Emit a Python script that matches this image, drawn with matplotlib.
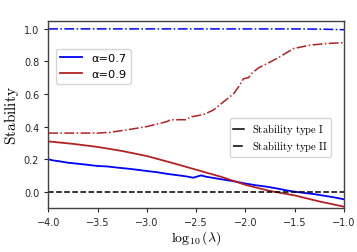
import matplotlib
matplotlib.use("Agg")
import matplotlib.pyplot as plt
from matplotlib.lines import Line2D

plt.rcParams['mathtext.fontset'] = 'cm'

# log10(lambda) grid points and readings
x_b1 = [-4.0, -3.95, -3.9, -3.8, -3.7, -3.6, -3.5, -3.4, -3.3, -3.2, -3.1, -3.0, -2.9, -2.8, -2.7, -2.6, -2.53, -2.48, -2.45, -2.4, -2.3, -2.2, -2.1, -2.0, -1.9, -1.8, -1.7, -1.6, -1.5, -1.4, -1.3, -1.2, -1.1, -1.0]
y_b1 = [0.199, 0.192, 0.188, 0.178, 0.172, 0.165, 0.158, 0.155, 0.148, 0.142, 0.135, 0.127, 0.12, 0.11, 0.102, 0.094, 0.086, 0.095, 0.1, 0.092, 0.082, 0.072, 0.062, 0.05, 0.04, 0.032, 0.022, 0.01, 0.0, -0.008, -0.015, -0.025, -0.035, -0.047]

x_r1 = [-4.0, -3.75, -3.5, -3.25, -3.0, -2.75, -2.5, -2.25, -2.0, -1.75, -1.5, -1.25, -1.0]
y_r1 = [0.309, 0.294, 0.275, 0.25, 0.219, 0.178, 0.135, 0.092, 0.042, 0.004, -0.023, -0.06, -0.092]

x_b2 = [-4.0, -3.0, -2.0, -1.5, -1.2, -1.0]
y_b2 = [1.0, 1.0, 1.0, 1.0, 0.998, 0.995]

x_r2 = [-4.0, -3.75, -3.5, -3.37, -3.2, -3.0, -2.9, -2.8, -2.76, -2.6, -2.56, -2.43, -2.33, -2.225, -2.12, -2.06, -2.02, -1.97, -1.94, -1.87, -1.75, -1.67, -1.515, -1.35, -1.18, -1.0]
y_r2 = [0.36, 0.36, 0.36, 0.365, 0.38, 0.40, 0.415, 0.43, 0.442, 0.442, 0.459, 0.473, 0.50, 0.551, 0.602, 0.653, 0.694, 0.70, 0.725, 0.76, 0.797, 0.822, 0.879, 0.90, 0.91, 0.916]

fig = plt.figure(figsize=(3.57, 2.53), dpi=100)
ax = fig.add_axes([0.135, 0.174, 0.829, 0.74])

l1, = ax.plot(x_b1, y_b1, color='blue', lw=1.3, label='α=0.7')
l2, = ax.plot(x_r1, y_r1, color='#b22222', lw=1.3, label='α=0.9')
ax.plot(x_b2, y_b2, color='blue', lw=1.1, ls='-.')
ax.plot(x_r2, y_r2, color='#b22222', lw=1.1, ls='-.')
ax.axhline(0, color='black', lw=1.1, ls='--')

ax.set_xlim(-4, -1)
ax.set_ylim(-0.1, 1.05)
ax.set_xticks([-4.0, -3.5, -3.0, -2.5, -2.0, -1.5, -1.0])
ax.set_yticks([0.0, 0.2, 0.4, 0.6, 0.8, 1.0])
ax.tick_params(labelsize=7, colors='#262626', length=3, width=0.8)
for s in ax.spines.values():
    s.set_color('#404040')
    s.set_linewidth(1.0)

ax.set_ylabel(r'$\mathrm{Stability}$', fontsize=11, labelpad=2)
ax.set_xlabel(r'$\log_{10}(\lambda)$', fontsize=10, labelpad=1)

leg1 = ax.legend(handles=[l1, l2], loc='upper left', bbox_to_anchor=(0.025, 0.85), fontsize=8.2,
                 handlelength=1.9, framealpha=0.8, borderaxespad=0)
ax.add_artist(leg1)
h1 = Line2D([], [], color='black', lw=1.1, ls='-')
h2 = Line2D([], [], color='black', lw=1.1, ls='-.')
ax.legend(handles=[h1, h2], labels=[r'$\mathrm{Stability\ type\ I}$', r'$\mathrm{Stability\ type\ II}$'],
          loc='upper right', bbox_to_anchor=(0.957, 0.48), fontsize=7.7, handlelength=1.0,
          labelspacing=0.2, borderpad=0.3, framealpha=0.8, borderaxespad=0)

fig.savefig('out.png', dpi=100)
